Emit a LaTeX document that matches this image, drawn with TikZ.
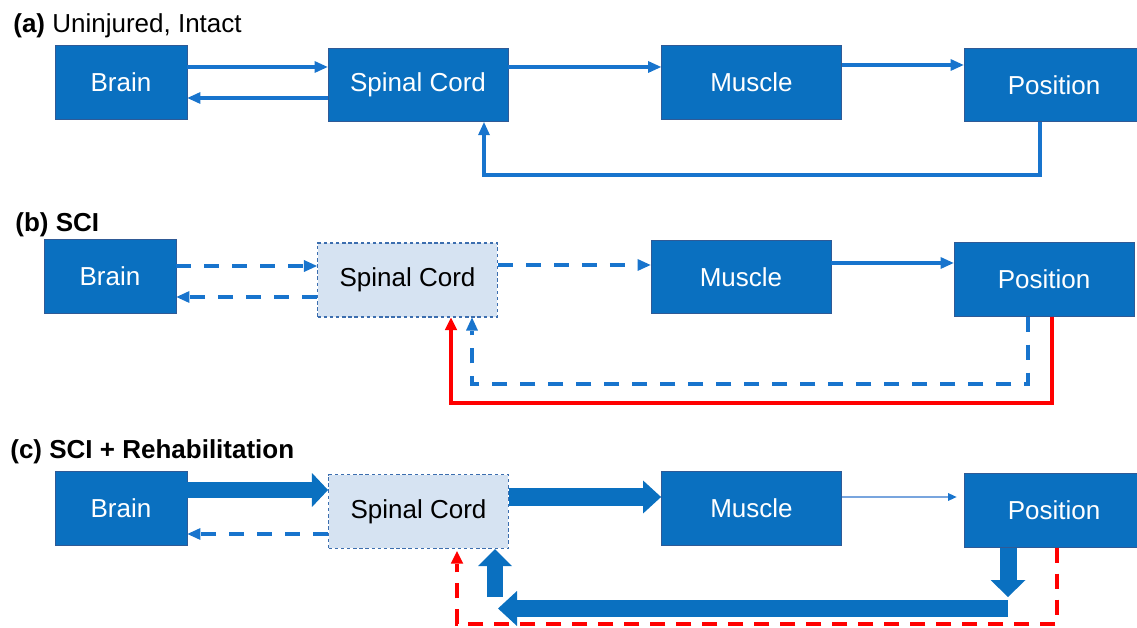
\documentclass[tikz,border=0pt]{standalone}
\usepackage{fontspec}
\setmainfont{Liberation Sans}
\usetikzlibrary{arrows.meta}

\definecolor{boxblue}{RGB}{10,112,192}
\definecolor{boxline}{RGB}{47,90,150}
\definecolor{lineblue}{RGB}{24,116,205}
\definecolor{faintblue}{RGB}{120,165,222}
\definecolor{cordfill}{RGB}{214,227,242}
\definecolor{cordline}{RGB}{60,110,175}
\definecolor{lossred}{RGB}{255,0,0}

\begin{document}
\begin{tikzpicture}[x=0.02cm, y=-0.02cm,
    font=\fontsize{14.8}{17}\selectfont,
    title/.style={anchor=base west, inner sep=0pt},
    box/.style={draw=boxline, line width=0.5pt, fill=boxblue, text=white, minimum height=1.47cm},
    narrow/.style={box, minimum width=2.64cm},
    wide/.style={box, minimum width=3.6cm},
    cord/.style={draw=cordline, line width=0.6pt, dash pattern=on 2pt off 1.5pt, fill=cordfill, text=black, minimum width=3.6cm, minimum height=1.48cm},
    sig/.style={draw=lineblue, line width=1.8pt, line join=miter, -{Triangle[length=0.26cm, width=0.24cm, line width=0pt]}},
    weak/.style={sig, dash pattern=on 0.3cm off 0.26cm},
    lost/.style={draw=lossred, line width=2.2pt, line join=miter, -{Triangle[length=0.25cm, width=0.25cm, line width=0pt]}},
    lostdash/.style={lost, line width=2.3pt, dash pattern=on 0.3cm off 0.22cm},
    faint/.style={draw=faintblue, line width=0.9pt, -{Triangle[length=0.17cm, width=0.16cm, line width=0pt, fill=lineblue]}},
    fat/.style args={#1/#2/#3}{draw=boxblue, line width=#1, -{Triangle[length=#2, width=#3, line width=0pt]}}]

    \useasboundingbox (0,0) rectangle (1137,628);

    % (a) uninjured
    \node[title] (titleA) at (13,33) {\textbf{(a)} Uninjured, Intact};
    \node[narrow] (brainA) at (121,82.5) {Brain};
    \node[wide] (cordA) at (418,85) {Spinal Cord};
    \node[wide] (muscleA) at (751.5,82.5) {Muscle};
    \node[wide] (posA) at (1054,85) {Position};

    \draw[sig] (brainA.east |- 0,67) -- (cordA.west |- 0,67);
    \draw[sig] (cordA.west |- 0,98) -- (brainA.east |- 0,98);
    \draw[sig] (cordA.east |- 0,67) -- (muscleA.west |- 0,67);
    \draw[sig] (muscleA.east |- 0,65) -- (posA.west |- 0,65);
    \draw[sig] (posA.south -| 1040,0) |- (484,175) -- (cordA.south -| 484,0);

    % (b) SCI
    \node[title] (titleB) at (15,232) {\textbf{(b) SCI}};
    \node[narrow] (brainB) at (110,276.5) {Brain};
    \node[cord] (cordB) at (407.5,280) {Spinal Cord};
    \node[wide] (muscleB) at (741,277) {Muscle};
    \node[wide] (posB) at (1044,279.5) {Position};

    \draw[weak] (brainB.east |- 0,266) -- (cordB.west |- 0,266);
    \draw[weak] (cordB.west |- 0,297) -- (brainB.east |- 0,297);
    \draw[weak] (cordB.east |- 0,265) -- (muscleB.west |- 0,265);
    \draw[sig] (muscleB.east |- 0,263) -- (posB.west |- 0,263);
    \draw[weak] (posB.south -| 1028,0) |- (472,384) -- (cordB.south -| 472,0);
    \draw[lost] (posB.south -| 1052,0) |- (451,403) -- (cordB.south -| 451,0);

    % (c) SCI + rehabilitation
    \node[title] (titleC) at (10,459) {\textbf{(c) SCI + Rehabilitation}};
    \node[narrow] (brainC) at (121,508.5) {Brain};
    \node[cord] (cordC) at (418.5,511.5) {Spinal Cord};
    \node[wide] (muscleC) at (751.5,508.5) {Muscle};
    \node[wide] (posC) at (1054,510.5) {Position};

    \coordinate (dropC) at (1008,597);
    \coordinate (barR) at (1008,608.5);
    \coordinate (barL) at (498,608.5);
    \coordinate (riseC) at (495,597);

    \draw[fat={0.32cm/0.32cm/0.68cm}] (brainC.east |- 0,490) -- (cordC.west |- 0,490);
    \draw[weak] (cordC.west |- 0,534) -- (brainC.east |- 0,534);
    \draw[fat={0.36cm/0.36cm/0.66cm}] (cordC.east |- 0,497) -- (muscleC.west |- 0,497);
    \draw[faint, shorten >=0.14cm] (muscleC.east |- 0,497) -- (posC.west |- 0,497);
    \draw[fat={0.34cm/0.34cm/0.7cm}] (posC.south -| dropC) -- (dropC);
    \draw[fat={0.34cm/0.38cm/0.7cm}] (barR) -- (barL);
    \draw[fat={0.32cm/0.34cm/0.68cm}] (riseC) -- (cordC.south -| riseC);
    \draw[lostdash, shorten >=0.04cm] (posC.south -| 1057,0) |- (457,624) -- (cordC.south -| 457,0);
\end{tikzpicture}
\end{document}
